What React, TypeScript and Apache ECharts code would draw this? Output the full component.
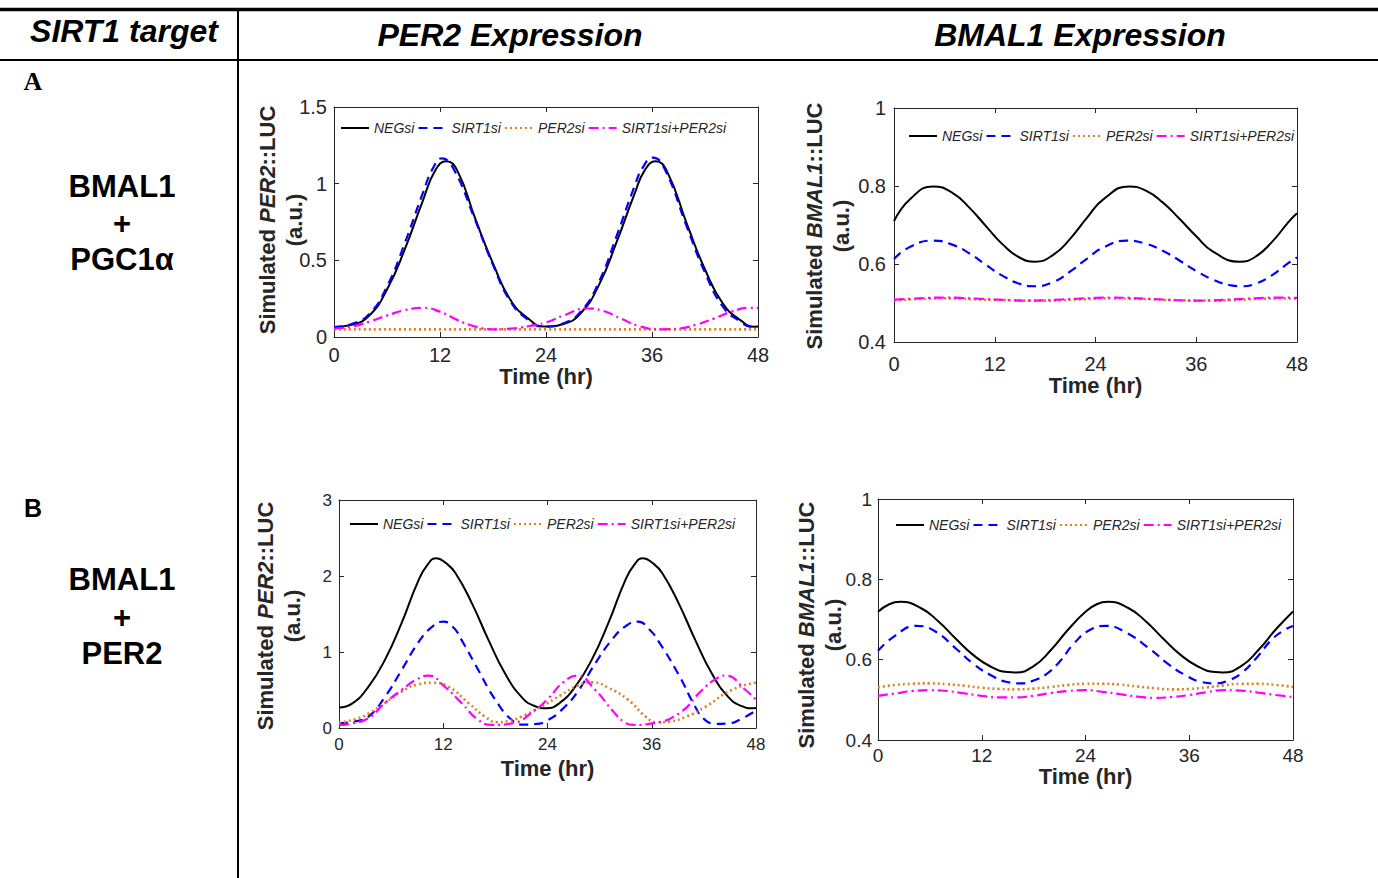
import React, { useEffect, useRef } from "react";
import * as echarts from "echarts";

// ---------- DATA ([time (hr), value]) ----------
const seriesNames = ["NEGsi", "SIRT1si", "PER2si", "SIRT1si+PER2si"];
const xTitle = "Time (hr)";

// Panel A (BMAL1 + PGC1α) – PER2 expression
const aPer2NEGsi = [[0, 0.065], [2, 0.08], [4, 0.14], [6, 0.31], [8, 0.57], [10, 0.88], [11.5, 1.09], [12.7, 1.146], [14, 1.08], [16, 0.77], [18, 0.48], [20, 0.24], [22, 0.12], [23.8, 0.068], [26, 0.085], [28, 0.16], [30, 0.34], [32, 0.62], [34, 0.93], [35.2, 1.09], [36.4, 1.146], [37.7, 1.08], [40, 0.73], [42, 0.44], [44, 0.22], [46, 0.11], [47.6, 0.067], [48, 0.068]];
const aPer2SIRT1si = [[0, 0.065], [2, 0.085], [4, 0.15], [6, 0.33], [8, 0.61], [10, 0.93], [11.2, 1.1], [12.2, 1.165], [13.5, 1.1], [16, 0.76], [18, 0.47], [20, 0.23], [22, 0.11], [23.6, 0.068], [26, 0.09], [28, 0.17], [30, 0.36], [32, 0.66], [34, 0.98], [35, 1.11], [36.1, 1.17], [37.4, 1.1], [40, 0.71], [42, 0.42], [44, 0.2], [46, 0.1], [47.4, 0.066], [48, 0.067]];
const aPer2PER2si = [[0, 0.05], [12, 0.05], [24, 0.05], [36, 0.05], [48, 0.05]];
const aPer2Both = [[0, 0.055], [2, 0.068], [4, 0.1], [6, 0.14], [8, 0.175], [10.1, 0.19], [12, 0.165], [14, 0.11], [16, 0.068], [18, 0.05], [20, 0.055], [22, 0.07], [24, 0.095], [26, 0.14], [28.6, 0.186], [30.5, 0.17], [32.5, 0.12], [34.5, 0.072], [37, 0.05], [39, 0.055], [41, 0.08], [43, 0.12], [45, 0.165], [47, 0.19], [48, 0.188]];

// Panel A – BMAL1 expression
const aBmalNEGsi = [[0, 0.71], [2, 0.768], [4.65, 0.799], [7, 0.782], [9, 0.744], [11, 0.696], [13, 0.649], [15, 0.616], [16.8, 0.606], [19, 0.624], [21, 0.665], [23, 0.719], [25, 0.767], [28, 0.799], [30, 0.788], [32, 0.758], [34, 0.716], [36, 0.671], [38, 0.632], [41.2, 0.606], [43, 0.618], [45, 0.656], [47, 0.708], [48, 0.73]];
const aBmalSIRT1si = [[0, 0.613], [2, 0.645], [4.65, 0.66], [7, 0.649], [9, 0.627], [11, 0.597], [13, 0.569], [15, 0.549], [16.8, 0.543], [19, 0.554], [21, 0.581], [23, 0.614], [25, 0.643], [27.7, 0.66], [30, 0.652], [32, 0.634], [34, 0.609], [36, 0.582], [38, 0.56], [40, 0.546], [41.4, 0.543], [43, 0.549], [45, 0.571], [47, 0.603], [48, 0.617]];
const aBmalPER2si = [[0, 0.507], [2, 0.509], [4, 0.511], [6, 0.512], [8, 0.511], [10, 0.509], [12, 0.508], [14, 0.507], [16, 0.506], [18, 0.506], [20, 0.507], [22, 0.509], [24, 0.511], [26, 0.512], [28, 0.511], [30, 0.51], [32, 0.508], [34, 0.507], [36, 0.506], [38, 0.506], [40, 0.507], [42, 0.509], [44, 0.511], [46, 0.512], [48, 0.511]];
const aBmalBoth = [[0, 0.508], [2, 0.511], [4, 0.513], [6, 0.514], [8, 0.513], [10, 0.511], [12, 0.509], [14, 0.507], [16, 0.506], [18, 0.507], [20, 0.509], [22, 0.511], [24, 0.513], [26, 0.514], [28, 0.513], [30, 0.511], [32, 0.509], [34, 0.507], [36, 0.506], [38, 0.507], [40, 0.509], [42, 0.511], [44, 0.513], [46, 0.514], [48, 0.513]];

// Panel B (BMAL1 + PER2) – PER2 expression
const bPer2NEGsi = [[0, 0.27], [1.5, 0.32], [3.4, 0.545], [5.3, 0.9], [7.2, 1.38], [9.1, 1.93], [10.2, 2.15], [11.2, 2.235], [12.3, 2.17], [13.4, 2.04], [15.3, 1.64], [17.2, 1.16], [19.1, 0.72], [21, 0.41], [22.5, 0.29], [23.9, 0.26], [25.3, 0.32], [27.2, 0.545], [29.1, 0.9], [31, 1.38], [32.9, 1.93], [34, 2.15], [35, 2.235], [36.1, 2.17], [37.2, 2.04], [39.1, 1.64], [41, 1.16], [42.9, 0.72], [44.8, 0.41], [46.3, 0.29], [47.6, 0.26], [48, 0.262]];
const bPer2SIRT1si = [[0, 0.06], [2, 0.09], [3.4, 0.15], [5.3, 0.41], [7.2, 0.76], [9.1, 1.12], [10.7, 1.33], [12, 1.4], [13.2, 1.32], [14.1, 1.16], [16.05, 0.76], [18, 0.37], [19.9, 0.105], [21.2, 0.045], [22.5, 0.05], [24, 0.1], [26, 0.28], [27.6, 0.5], [29.5, 0.85], [31.4, 1.16], [33, 1.34], [34.4, 1.4], [35.7, 1.3], [36.9, 1.12], [39.2, 0.68], [41, 0.28], [42, 0.12], [43.3, 0.055], [44.8, 0.06], [46.3, 0.12], [48, 0.23]];
const bPer2PER2si = [[0, 0.07], [2, 0.12], [3.4, 0.19], [5.3, 0.33], [7.2, 0.48], [9, 0.57], [10.8, 0.595], [12.5, 0.55], [14.9, 0.33], [16.8, 0.15], [18.2, 0.075], [19.5, 0.09], [21, 0.15], [23.3, 0.28], [25.5, 0.43], [27.5, 0.56], [29.2, 0.6], [31, 0.53], [33.3, 0.37], [35.3, 0.15], [36.6, 0.075], [38, 0.085], [40, 0.15], [42.2, 0.28], [45.2, 0.5], [48, 0.6]];
const bPer2Both = [[0, 0.04], [1.5, 0.06], [3.4, 0.13], [5.3, 0.33], [7.2, 0.5], [8.8, 0.63], [10.3, 0.69], [12.2, 0.54], [14.1, 0.33], [16, 0.11], [17.6, 0.04], [19.9, 0.06], [22.6, 0.24], [24.1, 0.39], [25.8, 0.6], [27.4, 0.69], [29.5, 0.5], [31.4, 0.24], [32.8, 0.08], [33.9, 0.04], [36, 0.06], [39.1, 0.19], [41.8, 0.5], [43.3, 0.64], [44.5, 0.69], [46.8, 0.5], [48, 0.37]];

// Panel B – BMAL1 expression
const bBmalNEGsi = [[0, 0.719], [1.3, 0.738], [2.6, 0.744], [5, 0.728], [7, 0.695], [9, 0.652], [11, 0.612], [13, 0.583], [15, 0.569], [15.9, 0.568], [18, 0.584], [20, 0.624], [22, 0.675], [24, 0.719], [25.3, 0.738], [26.6, 0.744], [29, 0.728], [31, 0.695], [33, 0.652], [35, 0.612], [37, 0.583], [39, 0.569], [39.9, 0.568], [42, 0.584], [44, 0.624], [46, 0.675], [48, 0.72]];
const bBmalSIRT1si = [[0, 0.622], [2, 0.66], [4.4, 0.684], [6.5, 0.672], [9.2, 0.624], [11, 0.59], [13, 0.562], [14.8, 0.545], [16.5, 0.541], [18, 0.548], [19.6, 0.566], [21, 0.595], [22.7, 0.641], [24.5, 0.674], [26.4, 0.684], [28.5, 0.67], [31.6, 0.624], [33.5, 0.59], [35.5, 0.562], [37.3, 0.545], [39, 0.541], [40.5, 0.548], [42, 0.566], [43.8, 0.605], [45.5, 0.649], [47, 0.674], [48, 0.684]];
const bBmalPER2si = [[0, 0.531], [2, 0.537], [4, 0.54], [6, 0.541], [8, 0.539], [10, 0.535], [12, 0.53], [14, 0.527], [16, 0.526], [18, 0.528], [20, 0.532], [22, 0.537], [24, 0.54], [26, 0.54], [28, 0.538], [30, 0.533], [32, 0.529], [34, 0.526], [36, 0.527], [38, 0.531], [40, 0.536], [42, 0.54], [44, 0.54], [46, 0.537], [48, 0.532]];
const bBmalBoth = [[0, 0.51], [2, 0.516], [4, 0.522], [6, 0.524], [8, 0.522], [10, 0.516], [12, 0.51], [14, 0.506], [16, 0.506], [18, 0.51], [20, 0.517], [22, 0.522], [24, 0.524], [26, 0.52], [28, 0.514], [30, 0.508], [32, 0.505], [34, 0.507], [36, 0.512], [38, 0.519], [40, 0.524], [42, 0.523], [44, 0.518], [46, 0.512], [48, 0.507]];

// ---------- STYLE / LAYOUT ----------
const FONT = '"Liberation Sans", Arial, Helvetica, sans-serif';
const AXIS = "#262626";

const lineStyles = [
  { color: "#000000", type: "solid" as any, width: 2 },
  { color: "#0000ff", type: [9, 6] as any, width: 2.2 },
  { color: "#e08020", type: [2, 3] as any, width: 2.6 },
  { color: "#ff00ff", type: [10, 4, 2, 4] as any, width: 2.2 },
];

const panels = [
  {
    grid: { left: 334, top: 107, width: 424, height: 230 },
    y: { min: 0, max: 1.5, interval: 0.5 },
    labelSize: 20, xMargin: 8, yMargin: 7, nameGap: 25,
    legend: { left: 340, top: 121 },
    gene: "PER2", titleX: 281, titleY: 220,
    data: [aPer2NEGsi, aPer2SIRT1si, aPer2PER2si, aPer2Both],
  },
  {
    grid: { left: 894, top: 108, width: 403, height: 234 },
    y: { min: 0.4, max: 1, interval: 0.2 },
    labelSize: 20, xMargin: 12, yMargin: 8, nameGap: 28,
    legend: { left: 908, top: 129 },
    gene: "BMAL1", titleX: 828, titleY: 226,
    data: [aBmalNEGsi, aBmalSIRT1si, aBmalPER2si, aBmalBoth],
  },
  {
    grid: { left: 339, top: 500, width: 417, height: 228 },
    y: { min: 0, max: 3, interval: 1 },
    labelSize: 17, xMargin: 8, yMargin: 7, nameGap: 29,
    legend: { left: 349, top: 517 },
    gene: "PER2", titleX: 279, titleY: 616,
    data: [bPer2NEGsi, bPer2SIRT1si, bPer2PER2si, bPer2Both],
  },
  {
    grid: { left: 878, top: 499, width: 415, height: 241 },
    y: { min: 0.4, max: 1, interval: 0.2 },
    labelSize: 19, xMargin: 6, yMargin: 6, nameGap: 23,
    legend: { left: 895, top: 518 },
    gene: "BMAL1", titleX: 820, titleY: 625,
    data: [bBmalNEGsi, bBmalSIRT1si, bBmalPER2si, bBmalBoth],
  },
];

function buildOption() {
  const grid: any[] = [];
  const xAxis: any[] = [];
  const yAxis: any[] = [];
  const series: any[] = [];
  const legend: any[] = [];
  const graphic: any[] = [];

  panels.forEach((p, i) => {
    grid.push({ ...p.grid, containLabel: false });
    const lineCommon = { show: true, onZero: false, lineStyle: { color: AXIS, width: 1 } };
    const tickCommon = { show: true, inside: true, length: 5, lineStyle: { color: AXIS, width: 1 } };
    xAxis.push({
      gridIndex: i, type: "value", min: 0, max: 48, interval: 12, position: "bottom",
      axisLine: lineCommon, axisTick: tickCommon, splitLine: { show: false },
      axisLabel: { fontSize: p.labelSize, color: AXIS, margin: p.xMargin, fontFamily: FONT },
      name: xTitle, nameLocation: "middle", nameGap: p.nameGap,
      nameTextStyle: { fontSize: 22, fontWeight: "bold", color: AXIS, fontFamily: FONT },
    });
    xAxis.push({
      gridIndex: i, type: "value", min: 0, max: 48, interval: 12, position: "top",
      axisLine: lineCommon, axisTick: tickCommon, splitLine: { show: false },
      axisLabel: { show: false },
    });
    yAxis.push({
      gridIndex: i, type: "value", min: p.y.min, max: p.y.max, interval: p.y.interval, position: "left",
      axisLine: lineCommon, axisTick: tickCommon, splitLine: { show: false },
      axisLabel: { fontSize: p.labelSize, color: AXIS, margin: p.yMargin, fontFamily: FONT },
    });
    yAxis.push({
      gridIndex: i, type: "value", min: p.y.min, max: p.y.max, interval: p.y.interval, position: "right",
      axisLine: lineCommon, axisTick: tickCommon, splitLine: { show: false },
      axisLabel: { show: false },
    });
    p.data.forEach((vals, k) => {
      const ls = lineStyles[k];
      series.push({
        type: "line",
        name: seriesNames[k],
        xAxisIndex: 2 * i,
        yAxisIndex: 2 * i,
        data: vals,
        smooth: 0.5,
        symbol: "none",
        showSymbol: false,
        lineStyle: { color: ls.color, type: ls.type, width: ls.width },
        itemStyle: { color: ls.color },
        z: 2 + k,
      });
    });
    legend.push({
      data: seriesNames, left: p.legend.left, top: p.legend.top, orient: "horizontal",
      itemWidth: 28, itemHeight: 12, itemGap: 3, padding: 0,
      itemStyle: { opacity: 0 },
      textStyle: { fontSize: 14, fontStyle: "italic", color: AXIS, fontFamily: FONT },
    });
    graphic.push({
      type: "text", x: p.titleX, y: p.titleY, rotation: Math.PI / 2,
      style: {
        text: `{a|Simulated }{b|${p.gene}}{a|::LUC}\n{a|(a.u.)}`,
        align: "center", verticalAlign: "middle",
        rich: {
          a: { fontSize: 22, fontWeight: "bold", fontFamily: FONT, fill: AXIS, lineHeight: 27, align: "center" },
          b: { fontSize: 22, fontWeight: "bold", fontStyle: "italic", fontFamily: FONT, fill: AXIS, lineHeight: 27, align: "center" },
        },
      },
    });
  });

  // table frame
  graphic.push(
    { type: "line", shape: { x1: 0, y1: 9.5, x2: 1378, y2: 9.5 }, style: { stroke: "#000", lineWidth: 3.5 } },
    { type: "line", shape: { x1: 0, y1: 60, x2: 1378, y2: 60 }, style: { stroke: "#000", lineWidth: 2 } },
    { type: "line", shape: { x1: 238, y1: 9, x2: 238, y2: 878 }, style: { stroke: "#000", lineWidth: 2 } }
  );
  const headStyle = { fontSize: 32, fontWeight: "bold", fontStyle: "italic", fontFamily: FONT, fill: "#000", align: "center", verticalAlign: "middle" };
  graphic.push(
    { type: "text", x: 124, y: 31, style: { ...headStyle, text: "SIRT1 target" } },
    { type: "text", x: 510, y: 35, style: { ...headStyle, text: "PER2 Expression" } },
    { type: "text", x: 1080, y: 35, style: { ...headStyle, text: "BMAL1 Expression" } }
  );
  const rowStyle = { fontSize: 31, fontWeight: "bold", fontFamily: FONT, fill: "#000", align: "center", verticalAlign: "middle" };
  graphic.push(
    { type: "text", x: 33, y: 81, style: { fontSize: 26, fontWeight: "bold", fontFamily: '"Liberation Serif", "Times New Roman", serif', fill: "#000", align: "center", verticalAlign: "middle", text: "A" } },
    { type: "text", x: 33, y: 508, style: { fontSize: 25, fontWeight: "bold", fontFamily: FONT, fill: "#000", align: "center", verticalAlign: "middle", text: "B" } },
    { type: "text", x: 122, y: 186, style: { ...rowStyle, text: "BMAL1" } },
    { type: "text", x: 122, y: 223, style: { ...rowStyle, text: "+" } },
    { type: "text", x: 122, y: 259, style: { ...rowStyle, text: "PGC1α" } },
    { type: "text", x: 122, y: 579, style: { ...rowStyle, text: "BMAL1" } },
    { type: "text", x: 122, y: 617, style: { ...rowStyle, text: "+" } },
    { type: "text", x: 122, y: 653, style: { ...rowStyle, text: "PER2" } }
  );

  return {
    animation: false,
    backgroundColor: "#ffffff",
    textStyle: { fontFamily: FONT },
    grid, xAxis, yAxis, series, legend, graphic,
  };
}

export default function App() {
  const ref = useRef<HTMLDivElement>(null);
  useEffect(() => {
    document.body.style.margin = "0";
    const chart = echarts.init(ref.current!, undefined, { renderer: "svg" });
    chart.setOption(buildOption() as any);
    return () => chart.dispose();
  }, []);
  return (
    <div
      ref={ref}
      style={{ position: "absolute", left: 0, top: 0, width: 1378, height: 878, background: "#fff" }}
    />
  );
}
